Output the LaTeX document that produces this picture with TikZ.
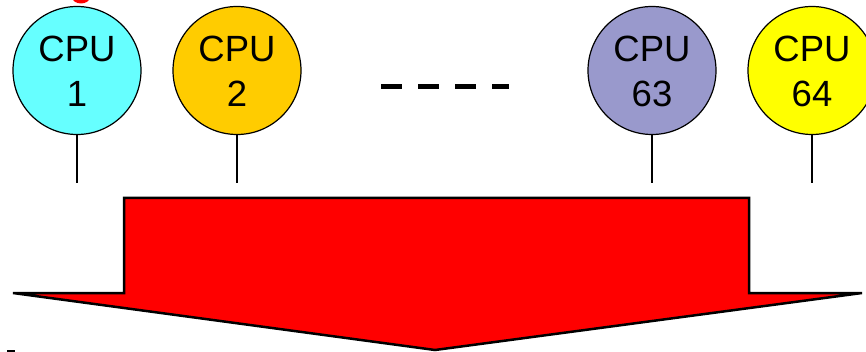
\documentclass[tikz,border=0pt]{standalone}
\usepackage{fontspec}
\setmainfont{Liberation Sans}
\definecolor{cpucyan}{HTML}{66FFFF}
\definecolor{cpuorange}{HTML}{FFCC00}
\definecolor{cpulav}{HTML}{9999CC}
\definecolor{cpuyellow}{HTML}{FFFF00}
\definecolor{arrowred}{HTML}{FF0000}
\tikzset{
  cpu/.style={circle, draw=black, line width=1.2pt, minimum size=128pt, inner sep=0pt},
  cputext/.style={anchor=base, inner sep=0pt, font=\fontsize{36.5}{45}\selectfont},
  stem/.style={draw=black, line width=1.5pt},
  bigarrow/.style={fill=arrowred, draw=black, line width=2.5pt, line join=miter},
}
\begin{document}
\begin{tikzpicture}[x=1pt,y=-1pt]
\useasboundingbox (0,0) rectangle (866,352);
\fill[white] (0,0) rectangle (866,352);
\clip (0,0) rectangle (866,352);
% cut-off fragments at the edges
\fill[arrowred] (81,-3) ellipse [x radius=9, y radius=6.5];
\fill[black] (7,349.5) rectangle (15,353);
% CPUs
\node[cpu, fill=cpucyan]   (c1)  at (77,70.5)  {};
\node[cpu, fill=cpuorange] (c2)  at (237,70.5) {};
\node[cpu, fill=cpulav]    (c63) at (652,70.5) {};
\node[cpu, fill=cpuyellow] (c64) at (812,70.5) {};
\node[cputext] (c1a)  at (77,62)  {CPU};
\node[cputext] (c1b)  at (77,107) {1};
\node[cputext] (c2a)  at (237,62)  {CPU};
\node[cputext] (c2b)  at (237,107) {2};
\node[cputext] (c63a) at (652,62)  {CPU};
\node[cputext] (c63b) at (652,107) {63};
\node[cputext] (c64a) at (812,62)  {CPU};
\node[cputext] (c64b) at (812,107) {64};
% stems
\coordinate (t1)  at (77,183);
\coordinate (t2)  at (237,183);
\coordinate (t63) at (652,183);
\coordinate (t64) at (812,183);
\draw[stem] (c1.south) -- (t1);
\draw[stem] (c2.south) -- (t2);
\draw[stem] (c63.south) -- (t63);
\draw[stem] (c64.south) -- (t64);
% dashes
\coordinate (d0) at (381,87);
\coordinate (d1) at (509,87);
\draw[black, line width=5pt, dash pattern=on 21pt off 16pt] (d0) -- (d1);
% big arrow
\draw[bigarrow] (124,198) -- (749,198) -- (749,293) -- (862,293) -- (435,350) -- (13,293) -- (124,293) -- cycle;
\end{tikzpicture}
\end{document}
